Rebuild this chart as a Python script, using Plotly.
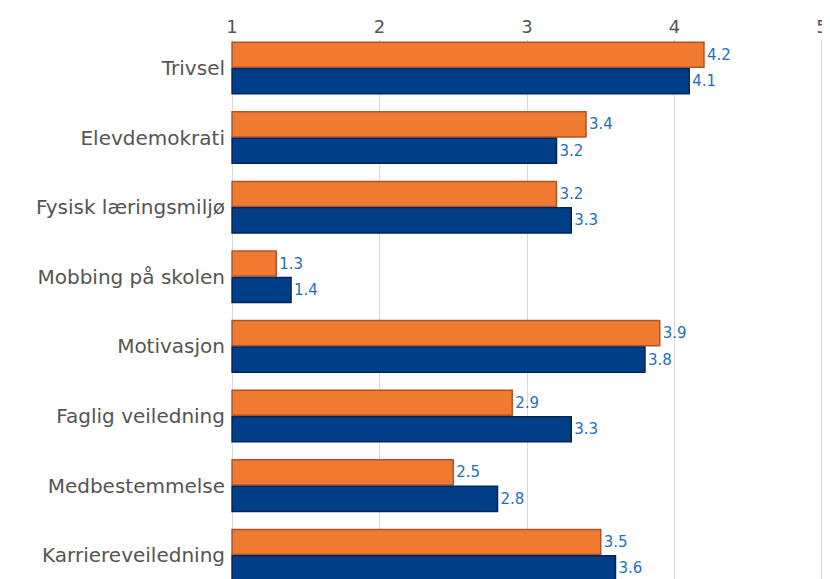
import plotly.graph_objects as go

categories = [
    "Trivsel",
    "Elevdemokrati",
    "Fysisk læringsmiljø",
    "Mobbing på skolen",
    "Motivasjon",
    "Faglig veiledning",
    "Medbestemmelse",
    "Karriereveiledning",
]
orange_values = [4.2, 3.4, 3.2, 1.3, 3.9, 2.9, 2.5, 3.5]
blue_values = [4.1, 3.2, 3.3, 1.4, 3.8, 3.3, 2.8, 3.6]
x_ticks = [1, 2, 3, 4, 5]

LABEL_FONT = dict(family="DejaVu Sans, Verdana, sans-serif", size=15, color="#1f6fc0")

fig = go.Figure()
fig.add_trace(go.Bar(
    y=categories,
    x=[v - 1 for v in orange_values],
    base=1,
    orientation="h",
    marker=dict(color="#f07a30", line=dict(color="#b0532a", width=1.5)),
    text=[f"{v:.1f}" for v in orange_values],
    textposition="outside",
    textfont=LABEL_FONT,
    cliponaxis=False,
    hoverinfo="skip",
))
fig.add_trace(go.Bar(
    y=categories,
    x=[v - 1 for v in blue_values],
    base=1,
    orientation="h",
    marker=dict(color="#003f88", line=dict(color="#00255a", width=1.5)),
    text=[f"{v:.1f}" for v in blue_values],
    textposition="outside",
    textfont=LABEL_FONT,
    cliponaxis=False,
    hoverinfo="skip",
))

# page body has an 8px margin, so the figure is shifted right/down by 8px
fig.update_layout(
    width=830,
    height=579,
    barmode="group",
    bargap=0.24,
    bargroupgap=0.05,
    showlegend=False,
    paper_bgcolor="white",
    plot_bgcolor="white",
    margin=dict(l=222, r=14, t=32, b=0),
    font=dict(family="DejaVu Sans, Verdana, sans-serif", color="#555555"),
)
fig.update_xaxes(
    side="top",
    range=[0.986, 5.014],
    tickvals=x_ticks,
    tickfont=dict(size=18, color="#555555"),
    showgrid=True,
    gridcolor="#d9d9d9",
    gridwidth=1,
    zeroline=False,
    showline=False,
    ticks="",
    ticklabelstandoff=2,
    automargin=False,
)
fig.update_yaxes(
    range=[7.457, -0.402],
    tickfont=dict(size=20, color="#555555"),
    showgrid=False,
    showline=False,
    ticks="",
    ticklabelstandoff=4,
    automargin=False,
)

fig.write_html("out.html")
